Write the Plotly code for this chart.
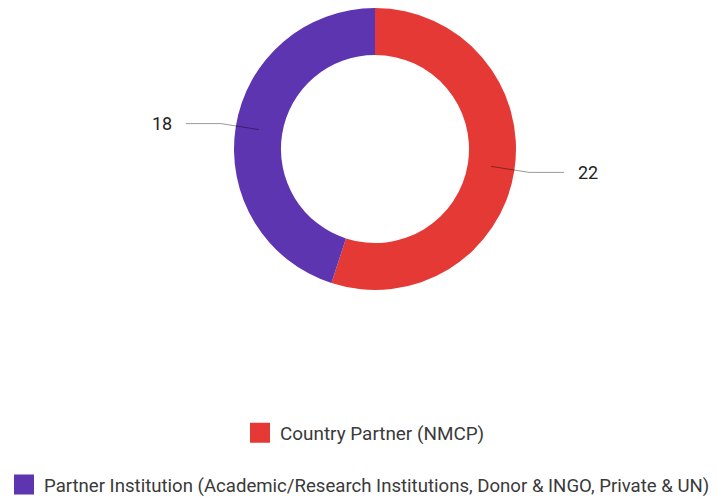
import math
import plotly.graph_objects as go

labels = ["Country Partner (NMCP)",
          "Partner Institution (Academic/Research Institutions, Donor & INGO, Private & UN)"]
values = [22, 18]
colors = ["#e53935", "#5e35b1"]

W, H = 718, 497
OFF = 8  # page body margin
CX, CY, R = 375 - OFF, 148 - OFF, 141
HOLE = 0.667

def px(x):
    return x / W

def py(y):
    return min(1.0, 1 - y / H)

fig = go.Figure()
fig.add_trace(go.Pie(
    labels=labels, values=values, hole=HOLE, sort=False, direction="clockwise",
    rotation=0, marker=dict(colors=colors, line=dict(width=0)),
    textinfo="none", hoverinfo="label+value", showlegend=False,
    domain=dict(x=[px(CX - R - 1), px(CX + R + 1)], y=[py(CY + R + 1), py(CY - R)]),
))

# leader lines and value labels computed from the data
total = sum(values)
cum = 0
shapes, annotations = [], []
rmid = R * (1 + HOLE) / 2
for v in values:
    mid = (cum + v / 2) / total * 2 * math.pi
    cum += v
    sx, sy = math.sin(mid), -math.cos(mid)
    x0, y0 = CX + rmid * sx, CY + rmid * sy
    x1, y1 = CX + (R + 15) * sx, CY + (R + 15) * sy
    side = 1 if sx >= 0 else -1
    x2 = x1 + side * 35
    path = f"M{px(x0)},{py(y0)} L{px(x1)},{py(y1)} L{px(x2)},{py(y1)}"
    shapes.append(dict(type="path", xref="paper", yref="paper", path=path,
                       line=dict(color="rgba(0,0,0,0.4)", width=1)))
    annotations.append(dict(xref="paper", yref="paper", x=px(x2 + side * 12), y=py(y1),
                            text=str(v), showarrow=False,
                            xanchor="left" if side > 0 else "right", yanchor="middle",
                            font=dict(size=18, color="#222", family="Roboto")))

# legend entries (one legend per row)
for i, (lab, col) in enumerate(zip(labels, colors)):
    fig.add_trace(go.Scatter(
        x=[None], y=[None], mode="markers", name=lab,
        marker=dict(symbol="square", size=20, color=col, line=dict(color=col, width=4)),
        legend="legend" if i == 0 else "legend2", showlegend=True, hoverinfo="skip",
    ))

leg_common = dict(orientation="h", xanchor="left", yanchor="middle",
                  bgcolor="rgba(0,0,0,0)", itemclick=False, itemdoubleclick=False)
fig.update_layout(
    width=W, height=H,
    margin=dict(l=0, r=0, t=0, b=0),
    paper_bgcolor="white", plot_bgcolor="white",
    xaxis=dict(visible=False), yaxis=dict(visible=False),
    shapes=shapes, annotations=annotations,
    legend=dict(x=px(232), y=py(425),
                font=dict(size=18.9, color="#3a3a3a", family="Roboto"), **leg_common),
    legend2=dict(x=0, y=py(477), indentation=-4,
                 font=dict(size=18.6, color="#3a3a3a", family="Roboto"), **leg_common),
    font=dict(family="Roboto"),
)

fig.write_html("out.html")
